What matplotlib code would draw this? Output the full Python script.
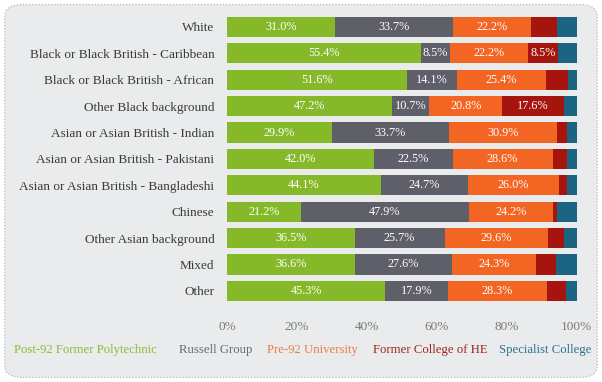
import matplotlib
matplotlib.use("Agg")
import matplotlib.pyplot as plt
from matplotlib.patches import FancyBboxPatch
import numpy as np

categories = ["White", "Black or Black British - Caribbean", "Black or Black British - African",
              "Other Black background", "Asian or Asian British - Indian",
              "Asian or Asian British - Pakistani", "Asian or Asian British - Bangladeshi",
              "Chinese", "Other Asian background", "Mixed", "Other"]
series_names = ["Post-92 Former Polytechnic", "Russell Group", "Pre-92 University",
                "Former College of HE", "Specialist College"]
post92 = [31.0, 55.4, 51.6, 47.2, 29.9, 42.0, 44.1, 21.2, 36.5, 36.6, 45.3]
russell = [33.7, 8.5, 14.1, 10.7, 33.7, 22.5, 24.7, 47.9, 25.7, 27.6, 17.9]
pre92 = [22.2, 22.2, 25.4, 20.8, 30.9, 28.6, 26.0, 24.2, 29.6, 24.3, 28.3]
college_he = [7.5, 8.5, 6.4, 17.6, 2.8, 4.2, 2.5, 1.2, 4.5, 5.7, 5.4]
specialist = [5.6, 5.4, 2.5, 3.7, 2.7, 2.7, 2.7, 5.5, 3.7, 5.8, 3.1]
show_label = [
    [True] * 11,
    [True] * 11,
    [True] * 11,
    [False, True, False, True, False, False, False, False, False, False, False],
    [False] * 11,
]
x_ticks = [0, 20, 40, 60, 80, 100]
x_tick_labels = ["0%", "20%", "40%", "60%", "80%", "100%"]

colors = ["#86b92a", "#5e5f69", "#f26522", "#a5150d", "#1b6582"]
legend_colors = ["#8dbd35", "#6a6b73", "#f07a40", "#a5251d", "#2a7390"]
bg = "#e9ebec"
serif = ["Liberation Serif", "DejaVu Serif"]

fig = plt.figure(figsize=(6.02, 3.82), dpi=100, facecolor="white")
border = FancyBboxPatch((0.008, 0.012), 0.984, 0.976, boxstyle="round,pad=0,rounding_size=0.03",
                        transform=fig.transFigure, facecolor=bg, edgecolor="#b5b8ba",
                        linestyle=(0, (1, 1.5)), linewidth=0.9, zorder=-10)
fig.patches.append(border)

ax = fig.add_axes([0.377, 0.204, 0.581, 0.76])
ax.set_facecolor("none")
ax.set_zorder(5)
y = np.arange(len(categories))
data = [post92, russell, pre92, college_he, specialist]
left = np.zeros(len(categories))
for s, (vals, c) in enumerate(zip(data, colors)):
    vals = np.array(vals)
    ax.barh(y, vals, left=left, color=c, height=0.76, edgecolor="none")
    for i, v in enumerate(vals):
        if show_label[s][i]:
            ax.text(left[i] + v / 2, y[i], f"{v:.1f}%", ha="center", va="center",
                    color="white", fontsize=8.8, family=serif)
    left += vals

ax.set_xlim(0, 100)
ax.set_ylim(len(categories) - 0.5, -0.5)
ax.set_yticks(y)
ax.set_yticklabels(categories, family=serif, fontsize=9.5, color="#3a3a3a")
ax.set_xticks(x_ticks)
ax.set_xticklabels(x_tick_labels, family=serif, fontsize=9.5, color="#7a7a7a")
ax.tick_params(length=0, pad=9)
ax.tick_params(axis="x", pad=12)
for sp in ax.spines.values():
    sp.set_visible(False)

legend_x = [0.024, 0.297, 0.443, 0.620, 0.829]
for name, c, lx in zip(series_names, legend_colors, legend_x):
    fig.text(lx, 0.083, name, color=c, fontsize=9.2, family=serif, ha="left", va="center")

fig.savefig("out.png", dpi=100, facecolor="white")
